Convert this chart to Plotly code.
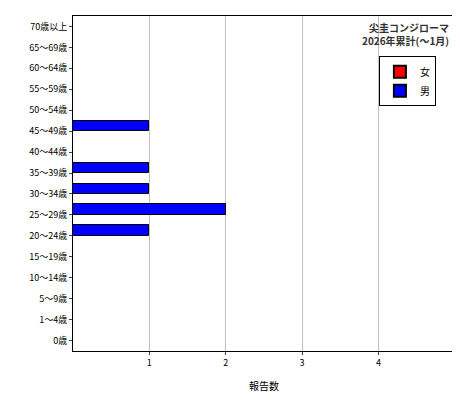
import plotly.graph_objects as go

ages = ["0歳", "1〜4歳", "5〜9歳", "10〜14歳", "15〜19歳", "20〜24歳", "25〜29歳", "30〜34歳",
        "35〜39歳", "40〜44歳", "45〜49歳", "50〜54歳", "55〜59歳", "60〜64歳", "65〜69歳", "70歳以上"]
female = [0] * 16
male = [0, 0, 0, 0, 0, 1, 2, 1, 1, 0, 1, 0, 0, 0, 0, 0]
x_ticks = [1, 2, 3, 4, 5]

FONT = "Noto Sans CJK JP"

fig = go.Figure()
fig.add_trace(go.Bar(y=ages, x=female, name="女", orientation="h",
                     marker=dict(color="#ff0000", line=dict(color="black", width=1))))
fig.add_trace(go.Bar(y=ages, x=male, name="男", orientation="h",
                     marker=dict(color="#0000ff", line=dict(color="black", width=1))))

fig.update_layout(
    width=460, height=400,
    margin=dict(l=65, r=13, t=8, b=57),
    barmode="group", bargap=0.0, bargroupgap=0.0,
    plot_bgcolor="white", paper_bgcolor="white",
    font=dict(family=FONT, size=9, color="black"),
    showlegend=True,
    legend=dict(x=0.95, y=0.88, xanchor="right", yanchor="top",
                bordercolor="black", borderwidth=1, bgcolor="white",
                font=dict(size=10), itemwidth=30, tracegroupgap=0,
                itemsizing="constant"),
    annotations=[dict(text="<b>尖圭コンジローマ<br>2026年累計(〜1月)</b>", x=0.99, y=0.995,
                      xref="paper", yref="paper", xanchor="right", yanchor="top",
                      showarrow=False, align="right", font=dict(size=10, color="#333333"))],
)
fig.update_xaxes(range=[0, 5.002], tickvals=x_ticks, showgrid=True, gridcolor="#c0c0c0",
                 showline=True, linecolor="black", mirror=True, zeroline=False,
                 ticks="outside", ticklen=3, automargin=False,
                 title=dict(text="報告数", font=dict(size=10)))
fig.update_yaxes(showline=True, linecolor="black", mirror=True, showgrid=False,
                 ticks="outside", ticklen=3, automargin=False)

fig.write_html("out.html")
